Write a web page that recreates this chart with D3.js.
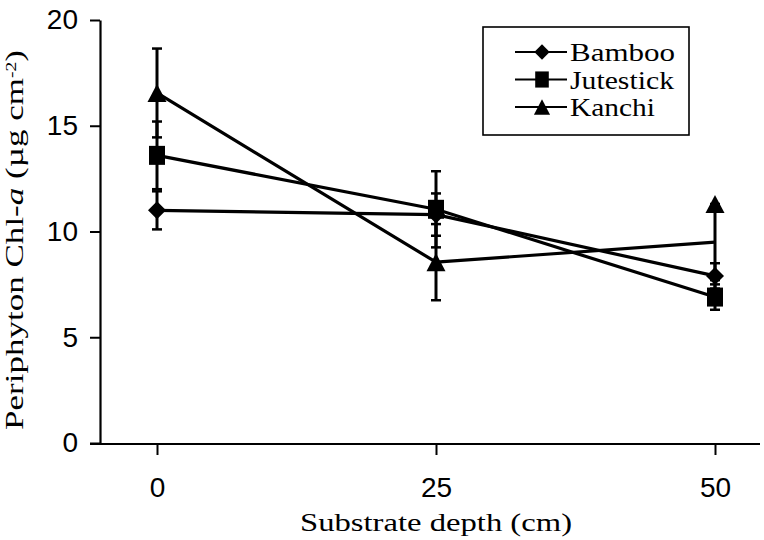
<!DOCTYPE html>
<html>
<head>
<meta charset="utf-8">
<script src="https://cdn.jsdelivr.net/npm/d3@7"></script>
<style>
  html, body { margin: 0; padding: 0; background: #fff; }
  svg { display: block; }
</style>
</head>
<body>
<svg id="chart" width="764" height="540"></svg>
<script>
// Substrate depths (cm) and periphyton chlorophyll-a (µg cm-2) per substrate
const depths = [0, 25, 50];
const yTicks = [0, 5, 10, 15, 20];
const seriesNames = ["Bamboo", "Jutestick", "Kanchi"];

const bambooMean = [11.0, 10.8, 7.9];
const bambooErr = [0.9, 1.0, 0.6];
const jutestickMean = [13.6, 11.05, 6.9];
const jutestickErr = [1.6, 1.8, 0.6];
const kanchiMean = [16.55, 8.55, 9.5];
const kanchiErr = [2.1, 1.8, 1.8];
// Kanchi triangle at 50 cm is printed at the top of its error bar
const kanchiMarker = [16.55, 8.55, 11.3];

const svg = d3.select("#chart");
const x = d3.scaleLinear().domain([0, 50]).range([157, 715]);
const y = d3.scaleLinear().domain([0, 20]).range([443, 20]);

const sans = "'Liberation Sans', Arial, sans-serif";
const serif = "'Liberation Serif', 'Times New Roman', serif";

// Marker shapes
function markerPath(kind, s) {
  if (kind === "diamond") {
    const w = 9 * s, h = 9 * s;
    return `M0,${-h}L${w},0L0,${h}L${-w},0Z`;
  }
  if (kind === "square") {
    const w = 8 * s, h = 9.5 * s;
    return `M${-w},${-h}H${w}V${h}H${-w}Z`;
  }
  const w = 9.5 * s, h = 9 * s;
  return `M0,${-h}L${w},${h}L${-w},${h}Z`;
}

const series = [
  { name: seriesNames[0], mean: bambooMean, err: bambooErr, marker: bambooMean, kind: "diamond" },
  { name: seriesNames[1], mean: jutestickMean, err: jutestickErr, marker: jutestickMean, kind: "square" },
  { name: seriesNames[2], mean: kanchiMean, err: kanchiErr, marker: kanchiMarker, kind: "triangle" }
];

// Y axis
const yAxis = d3.axisLeft(y).tickValues(yTicks).tickSize(10).tickPadding(12).tickSizeOuter(0);
const gy = svg.append("g").attr("transform", "translate(100,0)").call(yAxis);
gy.select(".domain").attr("stroke", "#000").attr("stroke-width", 2.2);
gy.selectAll(".tick line").attr("stroke", "#000").attr("stroke-width", 2);
gy.selectAll(".tick text").attr("font-family", sans).attr("font-size", 28).attr("fill", "#000");

// X axis
const xAxis = d3.axisBottom(x).tickValues(depths).tickSize(11).tickPadding(22).tickSizeOuter(0);
const gx = svg.append("g").attr("transform", "translate(0,444)").call(xAxis);
gx.select(".domain").remove();
gx.append("line").attr("x1", 90).attr("x2", 760).attr("y1", 0).attr("y2", 0)
  .attr("stroke", "#000").attr("stroke-width", 2.2);
gx.selectAll(".tick line").attr("stroke", "#000").attr("stroke-width", 2);
gx.selectAll(".tick text").attr("font-family", sans).attr("font-size", 28).attr("fill", "#000");

// Axis titles
svg.append("text")
  .attr("x", 436).attr("y", 531)
  .attr("text-anchor", "middle")
  .attr("font-family", serif).attr("font-size", 26).attr("fill", "#000")
  .attr("textLength", 272).attr("lengthAdjust", "spacingAndGlyphs")
  .text("Substrate depth (cm)");

const yt = svg.append("text")
  .attr("text-anchor", "middle")
  .attr("font-family", serif).attr("font-size", 25).attr("fill", "#000");
yt.append("tspan").text("Periphyton Chl-");
yt.append("tspan").attr("font-style", "italic").text("a");
yt.append("tspan").text(" (µg cm");
yt.append("tspan").attr("font-size", 14).attr("dy", -7).text("-2");
yt.append("tspan").attr("dy", 7).text(")");
// stretch the title along its run to span 380 px
const ytLen = yt.node().getComputedTextLength();
yt.attr("transform", `translate(23,240) rotate(-90) scale(${380 / ytLen},1)`);

// Lines
const line = d3.line().x((d, i) => x(depths[i])).y(d => y(d));
const plot = svg.append("g");
series.forEach(s => {
  plot.append("path").datum(s.mean)
    .attr("d", line)
    .attr("fill", "none").attr("stroke", "#000").attr("stroke-width", 3.2)
    .attr("stroke-linejoin", "round");
});

// Error bars
series.forEach(s => {
  s.mean.forEach((m, i) => {
    const cx = x(depths[i]);
    const top = y(m + s.err[i]), bot = y(m - s.err[i]);
    plot.append("line").attr("x1", cx).attr("x2", cx).attr("y1", top).attr("y2", bot)
      .attr("stroke", "#000").attr("stroke-width", 3);
    [top, bot].forEach(v => {
      plot.append("line").attr("x1", cx - 5).attr("x2", cx + 5).attr("y1", v).attr("y2", v)
        .attr("stroke", "#000").attr("stroke-width", 2.5);
    });
  });
});

// Markers
series.forEach(s => {
  s.marker.forEach((m, i) => {
    plot.append("path")
      .attr("d", markerPath(s.kind, 1))
      .attr("transform", `translate(${x(depths[i])},${y(m)})`)
      .attr("fill", "#000");
  });
});

// Legend
const legendWidths = [105, 104, 85];
const lg = svg.append("g");
lg.append("rect").attr("x", 483).attr("y", 27).attr("width", 206).attr("height", 108)
  .attr("fill", "#fff").attr("stroke", "#000").attr("stroke-width", 1.6);
series.forEach((s, i) => {
  const cy = 52 + i * 27.5;
  lg.append("line").attr("x1", 515).attr("x2", 567).attr("y1", cy).attr("y2", cy)
    .attr("stroke", "#000").attr("stroke-width", 2);
  lg.append("path").attr("d", markerPath(s.kind, 0.85))
    .attr("transform", `translate(542,${cy})`).attr("fill", "#000");
  lg.append("text").attr("x", 570).attr("y", cy + 9)
    .attr("font-family", serif).attr("font-size", 26).attr("fill", "#000")
    .attr("textLength", legendWidths[i]).attr("lengthAdjust", "spacingAndGlyphs")
    .text(s.name);
});
</script>
</body>
</html>
